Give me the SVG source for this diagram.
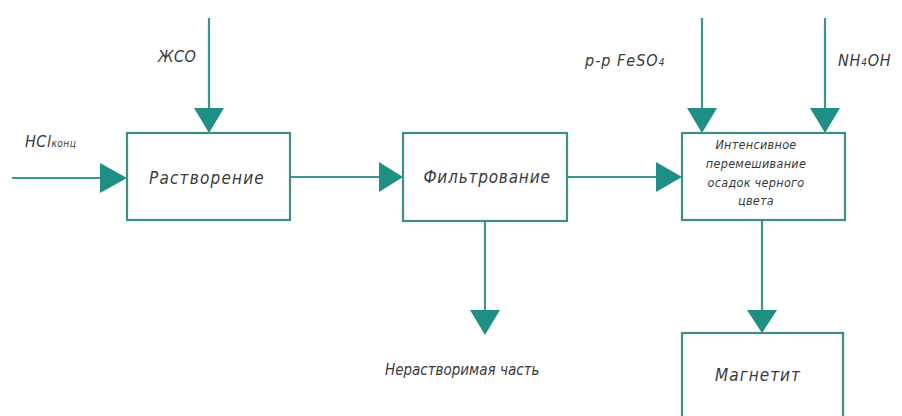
<svg xmlns="http://www.w3.org/2000/svg" width="902" height="416" viewBox="0 0 902 416">
<defs>
<style>
.box{fill:#fff;stroke:#3d8f84;stroke-width:2.2}
.ln{stroke:#3a978d;stroke-width:2.2;fill:none}
.ah{fill:#1f8f86}
.t{font-family:"DejaVu Sans Condensed","Liberation Sans Narrow","Liberation Sans",sans-serif;font-style:italic;fill:#3a3a3a}
</style>
</defs>
<rect width="902" height="416" fill="#fff"/>
<g id="connectors">
<line class="ln" x1="12" y1="178" x2="105" y2="178"/>
<polygon class="ah" points="100,163 127,178 100,193"/>
<line class="ln" x1="209" y1="18" x2="209" y2="115"/>
<polygon class="ah" points="194,108 224,108 209,133"/>
<line class="ln" x1="290" y1="177" x2="385" y2="177"/>
<polygon class="ah" points="379,162 403,177 379,192"/>
<line class="ln" x1="567" y1="177" x2="660" y2="177"/>
<polygon class="ah" points="656,162 682,177 656,192"/>
<line class="ln" x1="702" y1="18" x2="702" y2="115"/>
<polygon class="ah" points="687,108 717,108 702,133"/>
<line class="ln" x1="825" y1="18" x2="825" y2="115"/>
<polygon class="ah" points="810,108 840,108 825,133"/>
<line class="ln" x1="485" y1="221" x2="485" y2="315"/>
<polygon class="ah" points="470,310 500,310 485,335"/>
<line class="ln" x1="762" y1="220" x2="762" y2="315"/>
<polygon class="ah" points="747,310 777,310 762,333"/>
</g>
<g id="n1">
<rect class="box" x="127" y="133" width="163" height="87"/>
<text class="t" x="207" y="184" font-size="17" letter-spacing="1.2" text-anchor="middle">Растворение</text>
</g>
<g id="n2">
<rect class="box" x="403" y="133" width="164" height="88"/>
<text class="t" x="487" y="183" font-size="17" letter-spacing="0.8" text-anchor="middle">Фильтрование</text>
</g>
<g id="n3">
<rect class="box" x="682" y="133" width="163" height="87"/>
<text class="t" font-size="12.5" letter-spacing="0.3" text-anchor="middle"><tspan x="756" y="149">Интенсивное</tspan><tspan x="756" y="168">перемешивание</tspan><tspan x="756" y="187">осадок черного</tspan><tspan x="756" y="205">цвета</tspan></text>
</g>
<g id="n4">
<rect class="box" x="682" y="333" width="161" height="100"/>
<text class="t" x="758" y="381" font-size="17" letter-spacing="1" text-anchor="middle">Магнетит</text>
</g>
<g id="labels">
<text class="t" x="25" y="147" font-size="16" letter-spacing="0.5">HCl<tspan font-size="10">конц</tspan></text>
<text class="t" x="158" y="62" font-size="16" letter-spacing="0.5">ЖСО</text>
<text class="t" x="585" y="66" font-size="16" letter-spacing="1">р-р FeSO<tspan font-size="10">4</tspan></text>
<text class="t" x="838" y="66" font-size="16" letter-spacing="0.8">NH<tspan font-size="10">4</tspan>OH</text>
<text class="t" x="385" y="375" font-size="15">Нерастворимая часть</text>
</g>
</svg>
